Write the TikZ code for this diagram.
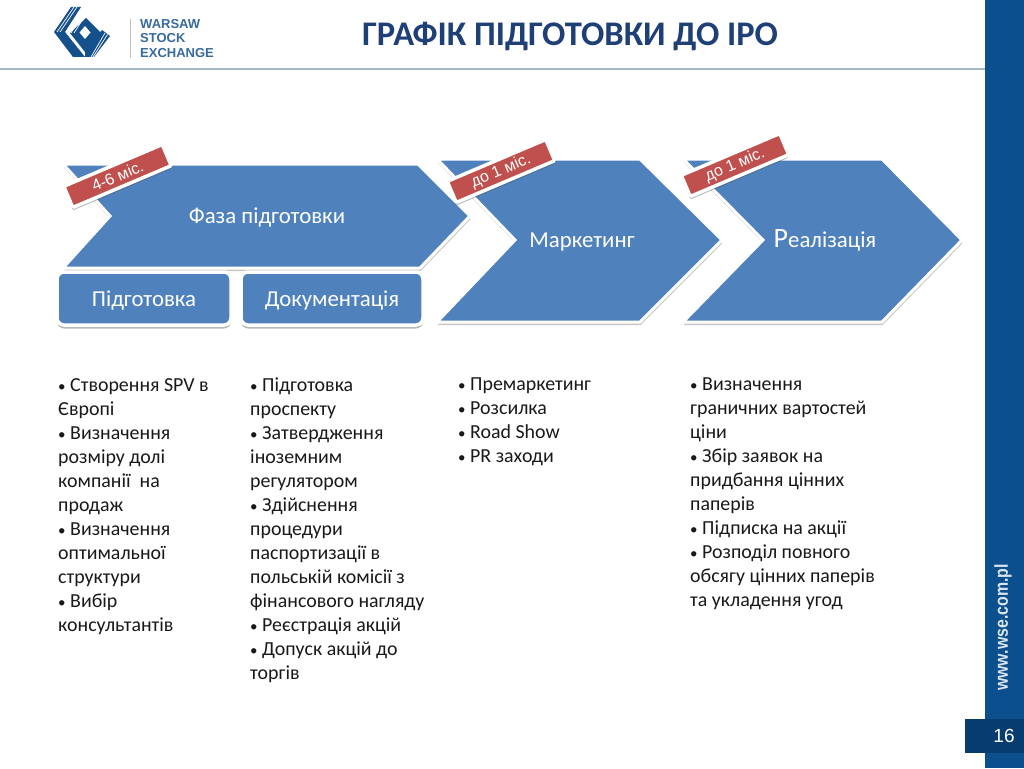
\documentclass[tikz,border=0pt]{standalone}
\usepackage{fontspec}
\setmainfont{Carlito}
\newfontfamily\tagfont{Liberation Sans}
\usetikzlibrary{shadows}
\definecolor{chevblue}{HTML}{4F81BD}
\definecolor{tagred}{HTML}{C0504D}
\definecolor{barblue}{HTML}{0B4F8C}
\definecolor{numblue}{HTML}{063C70}
\definecolor{titleblue}{HTML}{1F3F77}
\definecolor{logoblue}{HTML}{14508C}
\definecolor{ruleblue}{HTML}{A5BAC2}
\newcommand{\listdot}{\makebox[12pt][l]{\fontsize{15}{15}\selectfont •}}
\tikzset{
  chevron/.style={draw=white,line width=3pt,fill=chevblue,line join=miter,
    drop shadow={shadow xshift=0.5pt,shadow yshift=-3.2pt,opacity=0.3,fill=black!70}},
  chevtext/.style={text=white,font=\fontsize{22.8}{26}\selectfont,inner sep=0pt},
  stepbox/.style={draw=white,line width=3.5pt,fill=chevblue,rounded corners=7pt,text=white,
    font=\fontsize{22.8}{26}\selectfont,inner sep=0pt,text height=18pt,text depth=2pt,
    drop shadow={shadow xshift=0pt,shadow yshift=-3.5pt,opacity=0.4,fill=black!70}},
  timetag/.style={draw=white,line width=3.5pt,fill=tagred,text=white,rotate=23,rounded corners=1.5pt,
    minimum height=23pt,inner sep=0pt,font=\tagfont\fontsize{16}{18}\selectfont,
    drop shadow={shadow xshift=0pt,shadow yshift=-3pt,opacity=0.4,fill=black!70}},
  bullets/.style={anchor=north west,align=left,inner sep=0pt,text=black!90,
    font=\fontsize{19.9}{24}\selectfont},
  logotext/.style={anchor=west,inner sep=0pt,text=logoblue!85!white,font=\tagfont\bfseries\fontsize{13}{15}\selectfont}
}
\begin{document}
\begin{tikzpicture}[x=1pt,y=-1pt]
\useasboundingbox (0,0) rectangle (1024,768);
\fill[white] (0,0) rectangle (1024,768);
% frame of the slide
\fill[barblue] (985,0) rectangle (1024,768);
\fill[ruleblue] (0,68) rectangle (985,70);
\fill[numblue] (965,719) rectangle (1024,753);
\node[text=white,font=\tagfont\fontsize{19}{20}\selectfont,inner sep=0pt] (pagenum) at (1004,736) {16};
\node[rotate=90,text=white!85!barblue,font=\tagfont\bfseries\fontsize{18.7}{20}\selectfont,xscale=0.85,inner sep=0pt] (website) at (1003,627.5) {www.wse.com.pl};
\node[text=titleblue,font=\bfseries\fontsize{34.5}{38}\selectfont,inner sep=0pt] (title) at (570,36) {ГРАФІК ПІДГОТОВКИ ДО ІРО};
% logo
\fill[logoblue] (71,7) -- (54,32) -- (73,57) -- (85,57) -- (65,32) -- (81,7) -- cycle;
\fill[logoblue] (86,18) -- (101,33) -- (85,52) -- (70,33) -- cycle;
\fill[logoblue] (85,50) -- (102,30) -- (110,36) -- (94,57) -- (85,57) -- cycle;
\fill[white] (85,26) -- (90.5,32.5) -- (85,39) -- (79.5,32.5) -- cycle;
\draw[white,line width=0.7pt] (74,7) -- (57,32) (77,7) -- (60,32) (80,18.5) -- (71,33) (83,19) -- (74,33)
  (105,33) -- (91,57) (107.5,34.5) -- (93,57);
\fill[black!25] (129.5,19) rectangle (130.5,58);
\node[logotext] (wsetop) at (140,24) {WARSAW};
\node[logotext] (wsemid) at (140,38.5) {STOCK};
\node[logotext] (wsebot) at (140,53) {EXCHANGE};
% chevrons
\draw[chevron] (63,164) -- (418,164) -- (470,216) -- (420,268) -- (63,268) -- (110,216) -- cycle;
\draw[chevron] (437,159) -- (640,159) -- (722,240) -- (640,322) -- (437,322) -- (515,240) -- cycle;
\draw[chevron] (683,159) -- (882,159) -- (962,240) -- (882,322) -- (683,322) -- (763,240) -- cycle;
\node[chevtext] (phase) at (267,218) {Фаза підготовки};
\node[chevtext] (marketing) at (582,242) {Маркетинг};
\node[chevtext] (execution) at (825,240) {{\fontsize{28}{28}\selectfont Р}еалізація};
% boxes under first chevron
\node[stepbox,minimum width=174pt,minimum height=53pt] (prep) at (144,298.5) {Підготовка};
\node[stepbox,minimum width=182pt,minimum height=53pt] (docs) at (332,298.5) {Документація};
% time tags
\node[timetag,minimum width=107pt] (tagone) at (117.5,176) {4-6 міс.};
\node[timetag,minimum width=107pt] (tagtwo) at (501,171) {до 1 міс.};
\node[timetag,minimum width=107pt] (tagthree) at (735,165) {до 1 міс.};
% lists
\node[bullets] (listone) at (58,378) {\listdot Створення SPV в\\Європі\\\listdot Визначення\\розміру долі\\компанії~~на\\продаж\\\listdot Визначення\\оптимальної\\структури\\\listdot Вибір\\консультантів};
\node[bullets] (listtwo) at (250,378) {\listdot Підготовка\\проспекту\\\listdot Затвердження\\іноземним\\регулятором\\\listdot Здійснення\\процедури\\паспортизації в\\польській комісії з\\фінансового нагляду\\\listdot Реєстрація акцій\\\listdot Допуск акцій до\\торгів};
\node[bullets] (listthree) at (458,378) {\listdot Премаркетинг\\\listdot Розсилка\\\listdot Road Show\\\listdot PR заходи};
\node[bullets] (listfour) at (690,378) {\listdot Визначення\\граничних вартостей\\ціни\\\listdot Збір заявок на\\придбання цінних\\паперів\\\listdot Підписка на акції\\\listdot Розподіл повного\\обсягу цінних паперів\\та укладення угод};
\end{tikzpicture}
\end{document}
